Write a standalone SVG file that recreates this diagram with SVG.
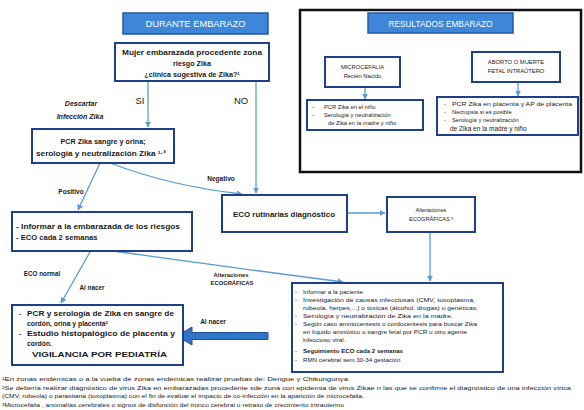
<svg xmlns="http://www.w3.org/2000/svg" width="584" height="410" viewBox="0 0 584 410">
<defs>
<marker id="ah" viewBox="0 0 10 10" refX="9" refY="5" markerWidth="6" markerHeight="6" orient="auto" markerUnits="userSpaceOnUse">
<path d="M0,0 L10,5 L0,10 z" fill="#5b9bd5"/>
</marker>
<style>
text{font-family:"Liberation Sans",Arial,sans-serif;fill:#1a1a1a}
.box{fill:#fff;stroke:#1f3f8a;stroke-width:2}
.hdr{fill:#3d86d8;stroke:#2458a6;stroke-width:1.5}
.ht{fill:#fff;font-size:8.5px;text-anchor:middle}
.c{text-anchor:middle}
.b{font-weight:bold}
.ln{fill:none;stroke:#5b9bd5;stroke-width:1.3;marker-end:url(#ah)}
.fn{font-size:6.2px}
</style>
</defs>
<rect width="584" height="410" fill="#fff"/>

<g id="connectors">
<path class="ln" d="M148,81 V127"/>
<path class="ln" d="M256,81 V193"/>
<path class="ln" d="M100,163 L78,210"/>
<path class="ln" d="M110,163 Q170,186 242,194"/>
<path class="ln" d="M347,213 H385"/>
<path class="ln" d="M430,232 V281"/>
<path class="ln" d="M113,251 Q250,270 343,282"/>
<path class="ln" d="M90,252 L61,303"/>
<path class="ln" d="M365,87 V99"/>
<path class="ln" d="M518,82 V96"/>
<polygon points="177,336 192,327 192,332.5 268,332.5 268,339.5 192,339.5 192,345" fill="#2e75c8" stroke="#1f4f99" stroke-width="1"/>
</g>

<g id="labels">
<text x="140" y="104" class="c" font-size="9.5">SI</text>
<text x="241" y="104" class="c" font-size="9.5">NO</text>
<text x="81" y="106" class="c b" font-size="7" font-style="italic">Descartar</text>
<text x="80" y="119" class="c b" font-size="7" font-style="italic">Infección Zika</text>
<text x="71" y="194" class="c b" font-size="6.5">Positivo</text>
<text x="221" y="181" class="c b" font-size="6.5">Negativo</text>
<text x="42" y="276" class="c b" font-size="6.3">ECO normal</text>
<text x="92" y="290" class="c b" font-size="6.3">Al nacer</text>
<text x="231" y="277" class="c b" font-size="5.8">Alteraciones</text>
<text x="232" y="285" class="c b" font-size="5.8">ECOGRÁFICAS</text>
<text x="213" y="324" class="c b" font-size="6.5">Al nacer</text>
</g>

<g id="durante">
<rect class="hdr" x="123" y="13" width="145" height="21"/>
<text x="195.5" y="27" class="ht" textLength="100" lengthAdjust="spacingAndGlyphs">DURANTE EMBARAZO</text>
</g>

<g id="pregunta">
<rect class="box" x="115" y="43" width="154" height="38"/>
<text x="192" y="55" class="c b" font-size="7.2" textLength="140" lengthAdjust="spacingAndGlyphs">Mujer embarazada procedente zona</text>
<text x="192" y="66" class="c b" font-size="7.2">riesgo Zika</text>
<text x="192" y="77" class="c b" font-size="7.2">¿clínica sugestiva de Zika?¹</text>
</g>

<g id="pcr">
<rect class="box" x="32" y="129" width="142" height="34"/>
<text x="103" y="144" class="c b" font-size="7.2">PCR Zika  sangre y orina;</text>
<text x="101" y="156" class="c b" font-size="7.2" textLength="130" lengthAdjust="spacingAndGlyphs">serología y neutralización Zika ¹·²</text>
</g>

<g id="informar">
<rect class="box" x="12" y="212" width="180" height="39"/>
<text x="16" y="229" class="b" font-size="7.6" textLength="164" lengthAdjust="spacingAndGlyphs">- Informar a la embarazada de los riesgos</text>
<text x="16" y="240" class="b" font-size="7.6">- ECO cada 2 semanas</text>
</g>

<g id="eco">
<rect class="box" x="222" y="195" width="125" height="37"/>
<text x="284" y="217" class="c b" font-size="8" textLength="102" lengthAdjust="spacingAndGlyphs">ECO  rutinarias diagnóstico</text>
</g>

<g id="alteraciones">
<rect class="box" x="387" y="197" width="88" height="35"/>
<text x="431" y="212" class="c" font-size="5.6">Alteraciones</text>
<text x="431" y="221" class="c" font-size="5.6">ECOGRÁFICAS ³</text>
</g>

<g id="acciones">
<rect class="box" x="292" y="283" width="211" height="89"/>
<g font-size="6.2">
<text x="295" y="294">-</text><text x="303" y="294">Informar a la paciente</text>
<text x="295" y="302">-</text><text x="303" y="302" textLength="172" lengthAdjust="spacingAndGlyphs">Investigación de causas infecciosas (CMV, toxoplasma,</text>
<text x="303" y="310" textLength="175" lengthAdjust="spacingAndGlyphs">rubeola, herpes,...) o tóxicas (alcohol, drogas) o genéticas;</text>
<text x="295" y="318">-</text><text x="303" y="318" textLength="150" lengthAdjust="spacingAndGlyphs">Serología y neutralización de Zika en la madre.</text>
<text x="295" y="326">-</text><text x="303" y="326" textLength="174" lengthAdjust="spacingAndGlyphs">Según caso amniocentesis o cordocentesis para buscar Zika</text>
<text x="303" y="334" textLength="164" lengthAdjust="spacingAndGlyphs">en líquido amniótico o sangre fetal por PCR u otro agente</text>
<text x="303" y="342">infeccioso viral.</text>
<text x="295" y="353">-</text><text x="303" y="353" class="b" textLength="100" lengthAdjust="spacingAndGlyphs">Seguimiento ECO cada 2 semanas</text>
<text x="295" y="362">-</text><text x="303" y="362">RMN cerebral  sem 30-34 gestación</text>
</g>
</g>

<g id="nacer">
<rect class="box" x="12" y="305" width="171" height="60"/>
<g font-size="6.8" class="b">
<text x="19" y="316">-</text><text x="27" y="316" textLength="147" lengthAdjust="spacingAndGlyphs">PCR y serología de Zika en sangre de</text>
<text x="27" y="326">cordón, orina y placenta²</text>
<text x="19" y="336">-</text><text x="27" y="336" textLength="148" lengthAdjust="spacingAndGlyphs">Estudio histopalógico de placenta y</text>
<text x="27" y="346">cordón.</text>
</g>
<text x="32" y="357" class="b" font-size="7.6" textLength="135" lengthAdjust="spacingAndGlyphs">VIGILANCIA POR PEDIATRÍA</text>
</g>

<g id="resultados">
<rect x="300" y="10" width="281" height="162" fill="none" stroke="#111" stroke-width="2.5"/>
<rect class="hdr" x="368" y="13" width="145" height="20"/>
<text x="440.5" y="26.5" class="ht" textLength="104" lengthAdjust="spacingAndGlyphs">RESULTADOS EMBARAZO</text>
</g>

<g id="microcefalia">
<rect class="box" x="325" y="57" width="75" height="30"/>
<text x="362.5" y="69" class="c" font-size="5.8">MICROCEFALIA</text>
<text x="362.5" y="78" class="c" font-size="5.8">Recién Nacido</text>
</g>

<g id="aborto">
<rect class="box" x="472" y="52" width="88" height="30"/>
<text x="516" y="64" class="c" font-size="5.8">ABORTO O MUERTE</text>
<text x="516" y="73" class="c" font-size="5.8">FETAL INTRAÚTERO</text>
</g>

<g id="pcr-nino">
<rect class="box" x="307" y="100" width="116" height="30"/>
<g font-size="5.8">
<text x="312" y="109">-</text><text x="324" y="109">PCR Zika en el niño</text>
<text x="312" y="117">-</text><text x="324" y="117">Serología y neutralización</text>
<text x="328" y="125">de Zika en la madre y niño</text>
</g>
</g>

<g id="pcr-placenta">
<rect class="box" x="437" y="97" width="141" height="38"/>
<g font-size="5.8">
<text x="444" y="106">-</text><text x="452" y="106" textLength="120" lengthAdjust="spacingAndGlyphs">PCR Zika en placenta y AP de placenta</text>
<text x="444" y="114">-</text><text x="452" y="114">Necropsia si es posible</text>
<text x="444" y="122">-</text><text x="452" y="122">Serología y neutralización</text>
</g>
<text x="450" y="131" font-size="6.5">de Zika en la madre y niño</text>
</g>

<g id="footnotes" class="fn">
<text x="2" y="381" class="fn" textLength="346" lengthAdjust="spacingAndGlyphs">¹En zonas endémicas o a la vuelta de zonas endémicas realizar pruebas de: Dengue y Chikungunya</text>
<text x="2" y="389.5" class="fn" textLength="569" lengthAdjust="spacingAndGlyphs">²Se debería realizar diagnóstico de virus Zika en embarazadas procedente sde zona con epidemia de virus Zikae n las que se confirme el diagnóstico de una infección vírica</text>
<text x="2" y="398" class="fn" textLength="362" lengthAdjust="spacingAndGlyphs">(CMV, rubeola) o parasitaria (toxoplasma) con el fin de evaluar el impacto de co-infección en la aparición de microcefalia.</text>
<text x="2" y="406.5" class="fn" textLength="342" lengthAdjust="spacingAndGlyphs">³Microcefalia , anomalías cerebrales o signos de disfunción del tronco cerebral o retraso de crecimiento intrauterino</text>
</g>
</svg>
